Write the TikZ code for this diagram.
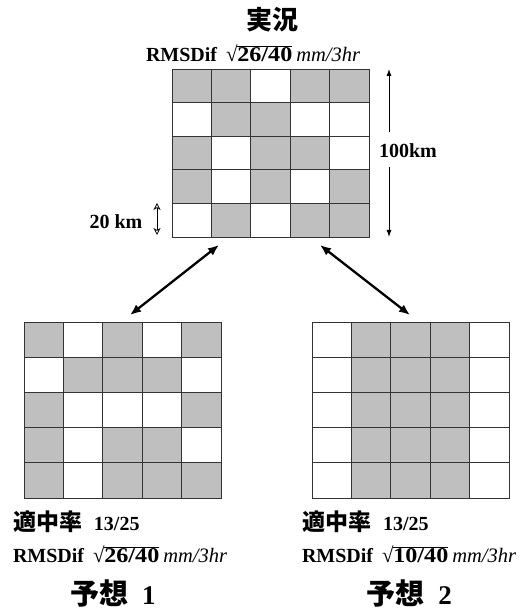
\documentclass[tikz,border=0pt]{standalone}
\usepackage{fontspec}
\usepackage{graphicx}
\setmainfont{Liberation Serif}
\newfontfamily\jpfont{Noto Sans CJK JP}
\usetikzlibrary{arrows.meta,calc}

% RMS difference line: label size, gap, digit size, digit stretch, digits
\newcommand\rmsline[5]{%
  {\fontsize{#1}{#1}\selectfont\bfseries RMSDif}\hspace{#2}%
  {\fontsize{#3}{#3}\selectfont\bfseries √\kern-0.3pt$\overline{\mbox{\scalebox{#4}[1]{\fontsize{#3}{#3}\selectfont\bfseries #5}}}$}%
  \hspace{4pt}{\fontsize{20.5}{22}\selectfont\itshape mm/3hr}}
% hit-rate line
\newcommand\hitline[1]{{\jpfont\bfseries\fontsize{23}{25}\selectfont 適中率}\hspace{12pt}{\fontsize{20}{22}\selectfont\bfseries #1}}
% forecast title
\newcommand\fctitle[1]{{\jpfont\bfseries\fontsize{29}{31}\selectfont 予想}\hspace{14pt}{\fontsize{27}{29}\selectfont\bfseries #1}}

% 5x5 grid: name, left, top, cell width, cell height, rows of 0/1
\newcommand\cellgrid[6]{%
  \foreach \rowv [count=\r] in {#6} {
    \foreach \v [count=\c] in \rowv {
      \ifnum\v=1
        \fill[cellfill] ({#2+(\c-1)*#4},{#3-(\r-1)*#5}) rectangle ++(#4,-#5);
      \fi
    }
  }
  \foreach \k in {1,...,4} {
    \draw[gridline] ({#2+\k*#4},#3) -- ++(0,{-5*#5});
    \draw[gridline] (#2,{#3-\k*#5}) -- ++({5*#4},0);
  }
  \node[gridframe, minimum width={5*#4 pt}, minimum height={5*#5 pt}, anchor=north west] (#1) at (#2,#3) {};
}

\tikzset{
  cellfill/.style={fill=black!25},
  gridline/.style={draw=black!80, line width=0.8pt},
  gridframe/.style={draw=black!80, line width=0.9pt, inner sep=0pt, outer sep=0pt},
  linkarrow/.style={line width=2.3pt, {Latex[length=11pt,width=9pt]}-{Latex[length=11pt,width=9pt]}},
  sizearrow/.style={line width=0.9pt, -{Latex[length=7pt,width=5pt]}},
  cellarrow/.style={line width=0.7pt, {Stealth[open,length=7pt,width=7pt,inset=2pt]}-{Stealth[open,length=7pt,width=7pt,inset=2pt]}},
  lbl/.style={inner sep=0pt, outer sep=0pt},
}

\begin{document}
\begin{tikzpicture}[x=1pt, y=1pt]
  \useasboundingbox (0,0) rectangle (527,611);

  % observed field
  \cellgrid{obs}{172}{542}{39.4}{33.6}{{1,1,0,1,1},{0,1,1,0,0},{1,0,1,1,0},{1,0,1,0,1},{0,1,0,1,1}}
  % forecast 1
  \cellgrid{fcA}{24}{289}{39.4}{35.2}{{1,0,1,0,1},{0,1,1,1,0},{1,0,0,0,1},{1,0,1,1,0},{1,0,1,1,1}}
  % forecast 2
  \cellgrid{fcB}{312}{289}{39.4}{35.2}{{0,1,1,1,0},{0,1,1,1,0},{0,1,1,1,0},{0,1,1,1,0},{0,1,1,1,0}}

  % titles
  \node[lbl] (tobs) at (272,591) {\jpfont\bfseries\fontsize{26}{28}\selectfont 実況};
  \node[lbl, anchor=west] (robs) at (146,558) {\rmsline{20}{9pt}{21}{1.15}{26/40}};

  % size annotations
  \node[lbl] (big) at (408,460) {\fontsize{20}{22}\selectfont\bfseries 100km};
  \coordinate (bigtop) at (389,542);
  \coordinate (bigbot) at (389,374);
  \coordinate (bigup) at (389,479);
  \coordinate (bigdn) at (389,444);
  \draw[sizearrow] (bigup) -- (bigtop);
  \draw[sizearrow] (bigdn) -- (bigbot);

  \node[lbl] (small) at (116,389) {\fontsize{20}{22}\selectfont\bfseries 20 km};
  \coordinate (smtop) at (157,408);
  \coordinate (smbot) at (157,376);
  \draw[cellarrow] (smtop) -- (smbot);

  % links between observation and forecasts
  \coordinate (la) at (219,366);
  \coordinate (lb) at (130,296);
  \coordinate (ra) at (320,366);
  \coordinate (rb) at (410,296);
  \draw[linkarrow] (la) -- (lb);
  \draw[linkarrow] (ra) -- (rb);

  % forecast 1 scores
  \node[lbl, anchor=west] (hA) at (13,89) {\hitline{13/25}};
  \node[lbl, anchor=west] (rA) at (13,57) {\rmsline{20}{9pt}{21}{1.15}{26/40}};
  \node[lbl] (tA) at (113,18) {\fctitle{1}};

  % forecast 2 scores
  \node[lbl, anchor=west] (hB) at (302,89) {\hitline{13/25}};
  \node[lbl, anchor=west] (rB) at (302,57) {\rmsline{20}{9pt}{21}{1.15}{10/40}};
  \node[lbl] (tB) at (409,18) {\fctitle{2}};
\end{tikzpicture}
\end{document}
